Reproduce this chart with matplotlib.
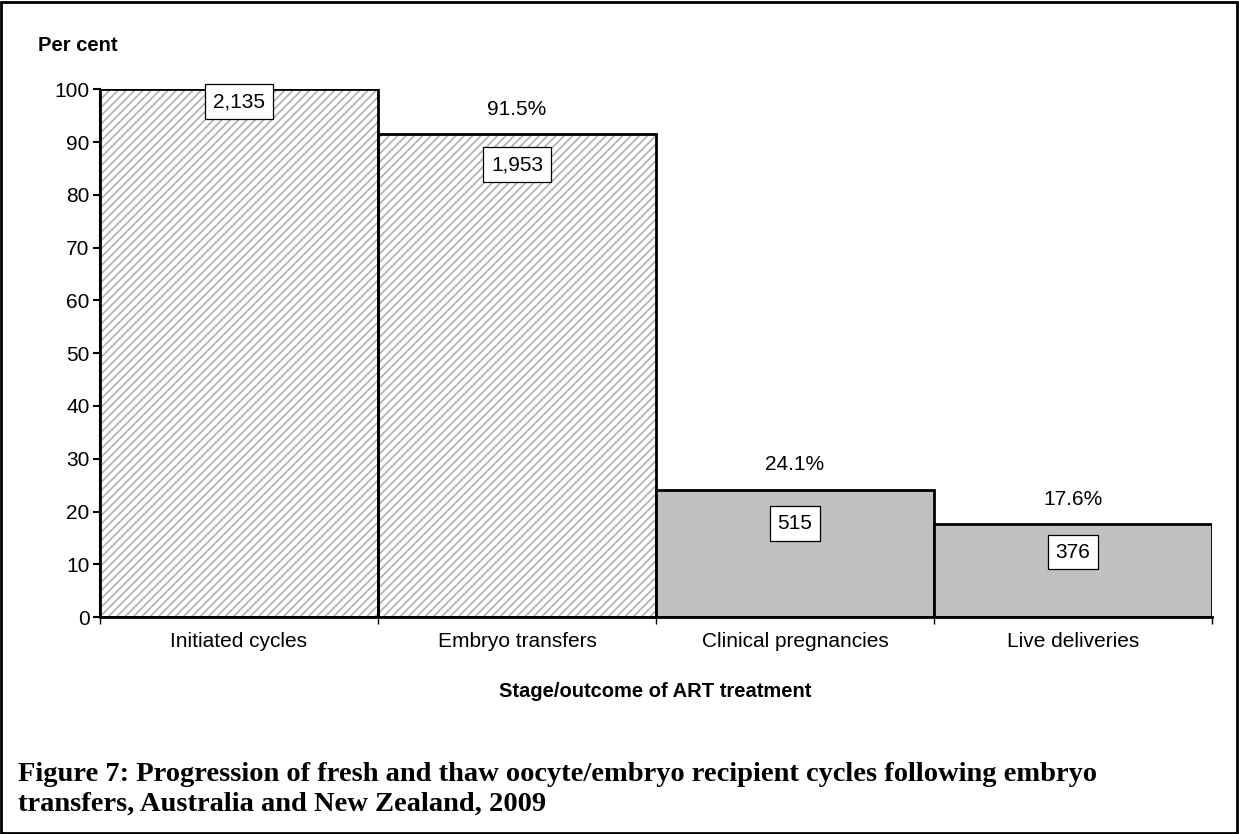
import numpy as np
import matplotlib.pyplot as plt
from matplotlib.patches import Rectangle

# data
stages = ['Initiated cycles', 'Embryo transfers', 'Clinical pregnancies', 'Live deliveries']
percent = [100.0, 91.5, 24.1, 17.6]
counts = ['2,135', '1,953', '515', '376']
pct_labels = ['', '91.5%', '24.1%', '17.6%']

plt.rcParams['font.family'] = ['Liberation Sans', 'DejaVu Sans']
plt.rcParams['hatch.linewidth'] = 1.3

fig = plt.figure(figsize=(12.39, 8.34), dpi=100)
ax = fig.add_axes([0.0807, 0.260, 0.8975, 0.633])

x = np.arange(len(stages))
hatched = [True, True, False, False]

for i in range(len(stages)):
    if hatched[i]:
        # hatch drawn in light grey, outline drawn on top in black
        ax.bar(x[i], percent[i], width=1.0, color='white', edgecolor='#b3b3b3',
               hatch='////', linewidth=0, zorder=2)
        ax.bar(x[i], percent[i], width=1.0, color='none', edgecolor='black',
               linewidth=2, zorder=3)
    else:
        ax.bar(x[i], percent[i], width=1.0, color='#c0c0c0', edgecolor='black',
               linewidth=2, zorder=3)

# count boxes inside bars and percentages above
box_offsets = [-9, -22, -24, -20]
for i in range(len(stages)):
    ax.annotate(counts[i], (x[i], percent[i]), xytext=(0, box_offsets[i]),
                textcoords='offset points', ha='center', va='center', fontsize=15,
                bbox=dict(boxstyle='square,pad=0.38', fc='white', ec='black', lw=0.9),
                zorder=5)
    if pct_labels[i]:
        ax.annotate(pct_labels[i], (x[i], percent[i]), xytext=(0, 18),
                    textcoords='offset points', ha='center', va='center', fontsize=15)

ax.set_xlim(-0.5, 3.5)
ax.set_ylim(0, 100)
ax.set_yticks(np.arange(0, 101, 10))
ax.set_xticks(np.arange(-0.5, 4, 1.0))
ax.set_xticklabels([])
ax.set_xticks(x, minor=True)
ax.set_xticklabels(stages, minor=True)
ax.tick_params(axis='x', which='minor', length=0, pad=11, labelsize=15)
ax.tick_params(axis='x', which='major', length=5, width=1, direction='out')
ax.tick_params(axis='y', length=5, width=1.5, direction='out', labelsize=15, pad=2.5)

for s in ['top', 'right']:
    ax.spines[s].set_visible(False)
ax.spines['left'].set_linewidth(1.5)
ax.spines['bottom'].set_linewidth(2)
ax.spines['left'].set_zorder(4)
ax.spines['bottom'].set_zorder(4)

fig.text(0.031, 0.946, 'Per cent', fontsize=14.5, fontweight='bold', ha='left', va='center')
fig.text(0.529, 0.171, 'Stage/outcome of ART treatment', fontsize=14.5, fontweight='bold',
         ha='center', va='center')

fig.text(0.0145, 0.054,
         'Figure 7: Progression of fresh and thaw oocyte/embryo recipient cycles following embryo\n'
         'transfers, Australia and New Zealand, 2009',
         fontsize=20.5, fontweight='bold', family=['Liberation Serif', 'DejaVu Serif'],
         ha='left', va='center', linespacing=1.25)

# frame around the whole figure
fig.patches.append(Rectangle((0.001, 0.001), 0.997, 0.997, transform=fig.transFigure,
                             fill=False, ec='black', lw=2))

fig.savefig('out.png', dpi=100)
